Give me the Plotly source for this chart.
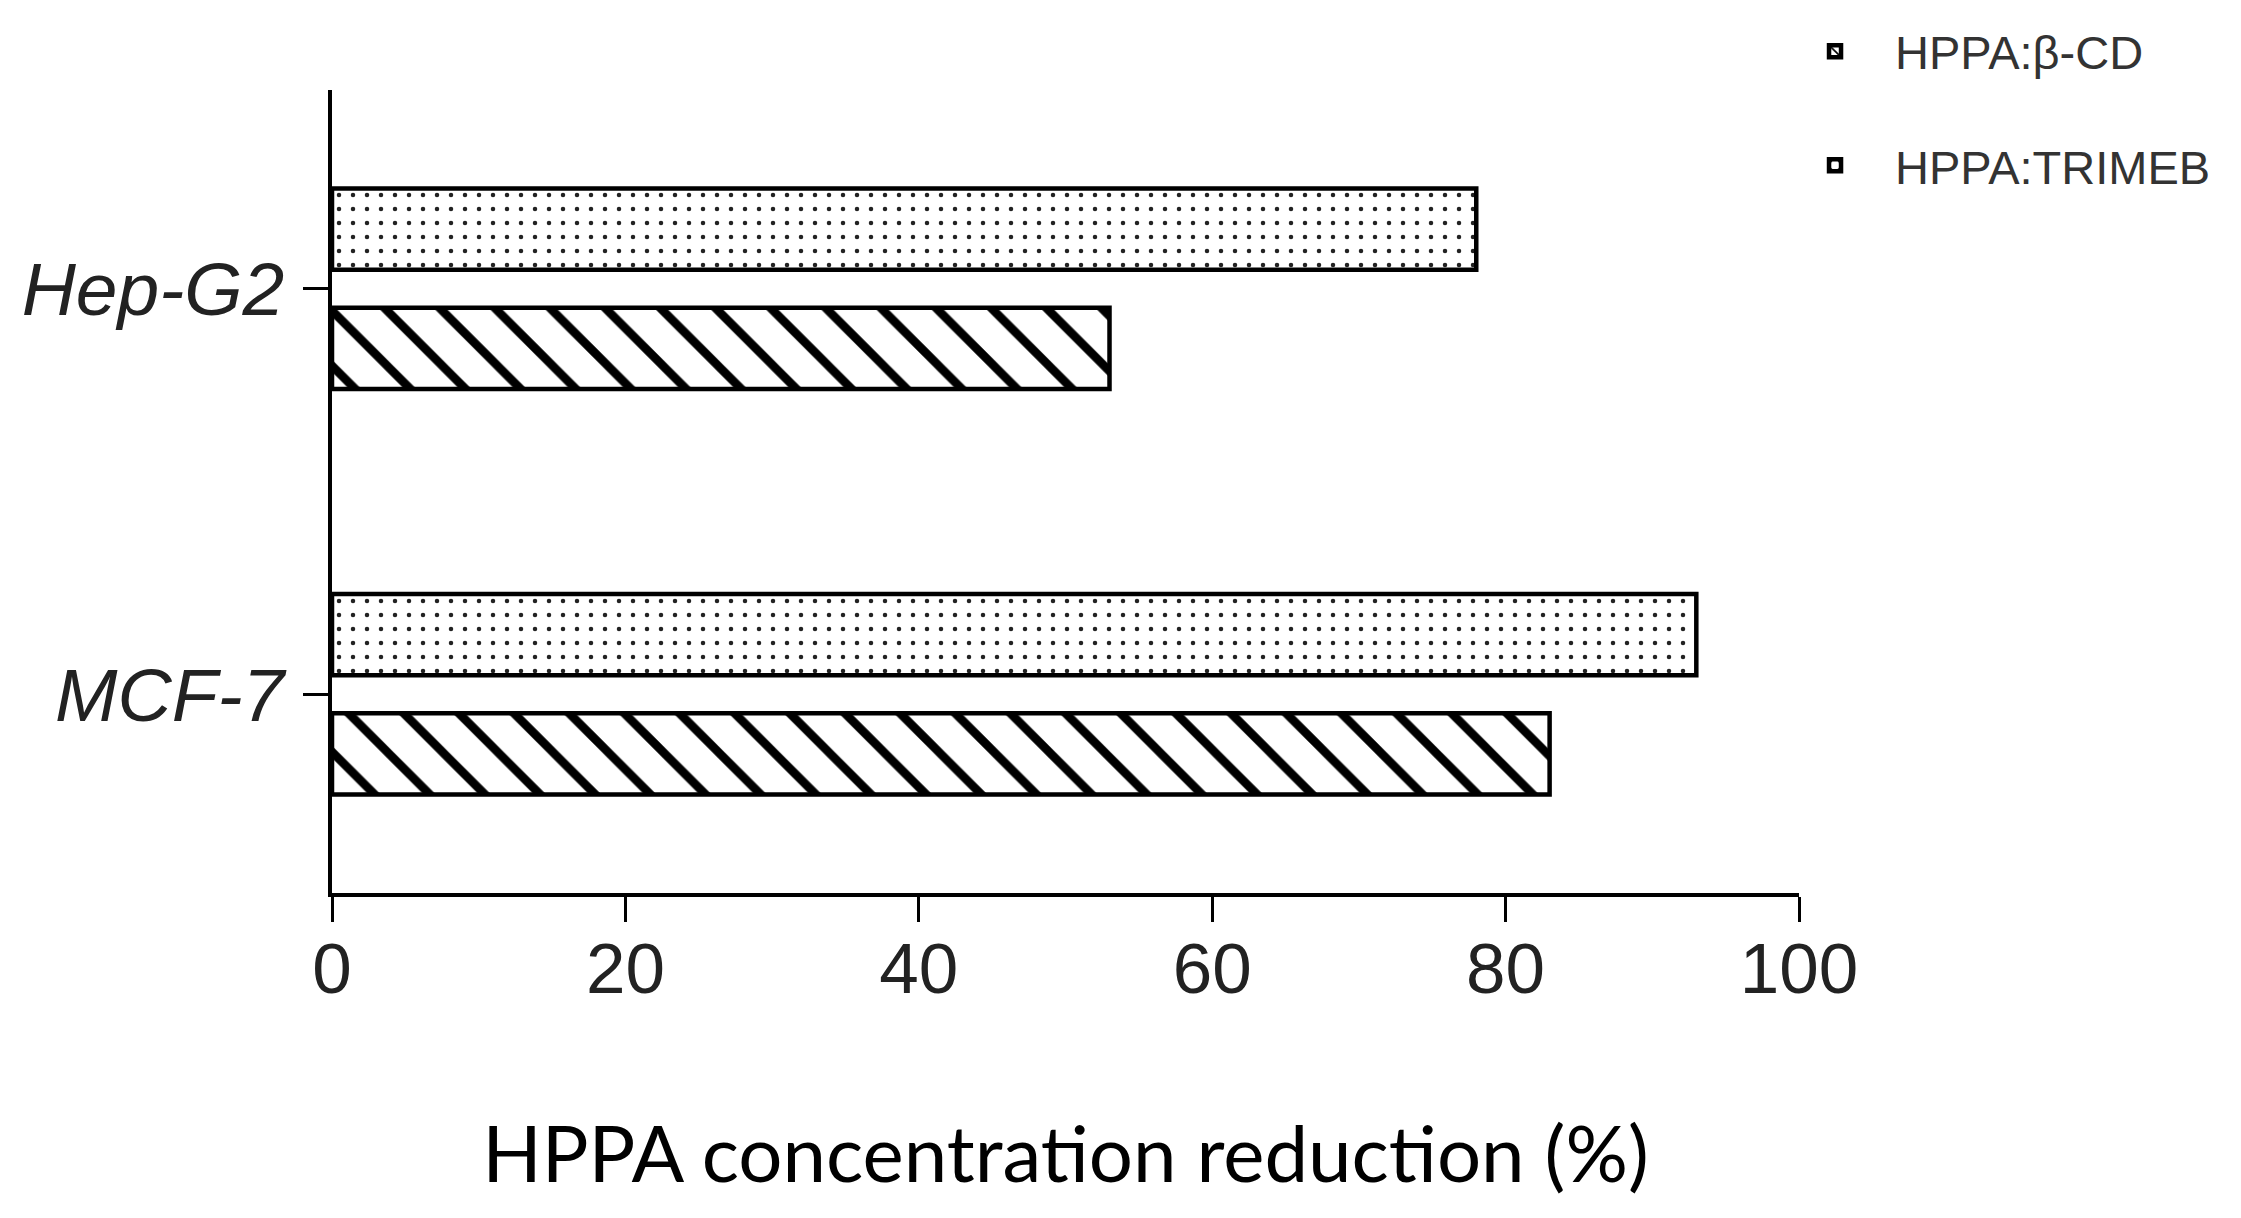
import plotly.graph_objects as go

cell_lines = ["MCF-7", "Hep-G2"]
beta_cd = [83, 53]
trimeb = [93, 78]
x_ticks = [0, 20, 40, 60, 80, 100]
series_names = ["HPPA:β-CD", "HPPA:TRIMEB"]

fig = go.Figure()
fig.add_trace(go.Bar(
    y=cell_lines, x=beta_cd, orientation="h", name=series_names[0],
    legendgroup="a",
    marker=dict(color="white", line=dict(color="black", width=4.5),
                pattern=dict(shape="\\", size=39, solidity=0.22,
                             fgcolor="black", fgopacity=1, bgcolor="white",
                             fillmode="overlay")),
))
fig.add_trace(go.Bar(
    y=cell_lines, x=trimeb, orientation="h", name=series_names[1],
    legendgroup="b",
    marker=dict(color="white", line=dict(color="black", width=4.5),
                pattern=dict(shape=".", size=14, solidity=0.08,
                             fgcolor="#222", fgopacity=1, bgcolor="white",
                             fillmode="overlay")),
))

fig.update_layout(
    width=2241, height=1218,
    paper_bgcolor="white", plot_bgcolor="white",
    barmode="group", bargap=0.412, bargroupgap=0.32,
    margin=dict(l=324, r=450, t=82, b=333, autoexpand=False),
    font=dict(family="Liberation Sans, Arial, sans-serif", color="#222"),
    showlegend=True,
    legend=dict(
        xref="container", yref="container",
        x=0.7885, y=0.995, xanchor="left", yanchor="top",
        traceorder="grouped", tracegroupgap=50,
        itemwidth=110,
        font=dict(family="Liberation Sans, Arial, sans-serif", size=47, color="#333"),
        bgcolor="rgba(0,0,0,0)",
    ),
    xaxis=dict(
        range=[0, 100], tickvals=x_ticks, ticktext=[str(v) for v in x_ticks],
        showline=True, linecolor="black", linewidth=3.5,
        ticks="outside", ticklen=25, tickwidth=3, tickcolor="black",
        showgrid=False, zeroline=False,
        tickfont=dict(family="Liberation Sans, Arial, sans-serif", size=71, color="#222"),
        ticklabelstandoff=-14,
        title=dict(text="HPPA concentration reduction (%)",
                   font=dict(family="Lato, Carlito, sans-serif", size=78, color="black"),
                   standoff=121),
    ),
    yaxis=dict(
        type="category", categoryorder="array", categoryarray=cell_lines,
        range=[-0.49, 1.49],
        showline=True, linecolor="black", linewidth=3.5,
        ticks="outside", ticklen=25, tickwidth=3, tickcolor="black",
        showgrid=False, zeroline=False,
        tickfont=dict(family="Liberation Sans, Arial, sans-serif", size=75, color="#222",
                      style="italic"),
        ticklabelstandoff=4,
    ),
)

fig.write_html("out.html")
